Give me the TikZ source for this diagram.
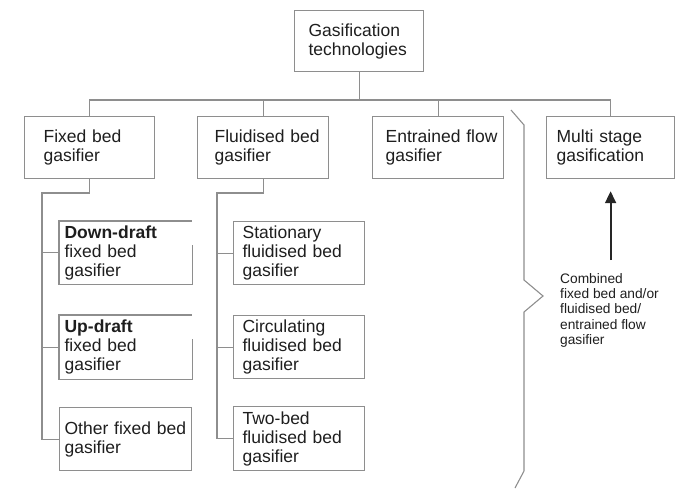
\documentclass[tikz,border=0pt]{standalone}
\usepackage{fontspec}
\setmainfont{Liberation Sans}
\usetikzlibrary{arrows.meta}

\definecolor{linegray}{HTML}{8E8E8E}
\definecolor{inkgray}{HTML}{1E1E1E}

\tikzset{
  % box={width}{height}{left indent of the text}
  box/.style n args={3}{draw=linegray, line width=1.2pt, anchor=north west,
    align=left, inner ysep=0pt, inner xsep=1pt,
    text width={#1pt-2pt}, minimum height=#2pt,
    execute at begin node={\leftskip=#3pt\relax},
    font=\fontsize{17.5}{19}\selectfont, text=inkgray},
  openbox/.style n args={3}{box={#1}{#2}{#3}, draw=none},
  edgeline/.style={draw=linegray, line width=1.2pt},
  link/.style={draw=linegray, line width=1.1pt},
  bracket/.style={draw=linegray, line width=1.1pt, line join=miter},
  uparrow/.style={draw=black!85, line width=1.8pt,
    -{Triangle[length=12pt,width=11pt]}, shorten <=13pt, shorten >=12pt},
  note/.style={anchor=north west, inner sep=0pt, align=left,
    font=\fontsize{13.75}{15.3}\selectfont, text=inkgray}
}

\begin{document}
\begin{tikzpicture}[x=1pt,y=-1pt]
\useasboundingbox (0,0) rectangle (675,488);

% root and first level
\node[box={129}{61}{13}] (root)  at (294,10)  {Gasification\\technologies};
\node[box={130}{62}{18}] (fixed) at (24,116)  {Fixed bed\\gasifier};
\node[box={131}{62}{16}] (fluid) at (197,116) {Fluidised bed\\gasifier};
\node[box={131}{62}{12}] (entr)  at (372,116) {Entrained flow\\gasifier};
\node[box={128}{62}{9}]  (multi) at (546,116) {Multi stage\\gasification};

% fixed bed variants
\node[openbox={132}{62}{4}] (down)  at (59,221) {\textbf{Down-draft}\\fixed bed\\gasifier};
\node[openbox={132}{63}{4}] (up)    at (59,315) {\textbf{Up-draft}\\fixed bed\\gasifier};
\node[box={132}{63}{4}]     (other) at (59,407) {Other fixed bed\\gasifier};

% fluidised bed variants
\node[box={131}{63}{8}] (stat) at (233,221) {Stationary\\fluidised bed\\gasifier};
\node[box={131}{63}{8}] (circ) at (233,315) {Circulating\\fluidised bed\\gasifier};
\node[box={131}{64}{8}] (two)  at (233,406) {Two-bed\\fluidised bed\\gasifier};

% borders of the two boxes whose top right corner stays open
\foreach \b in {down,up}
  \draw[edgeline] ([yshift=-24pt]\b.north east) -- (\b.south east)
    -- (\b.south west) -- (\b.north west) -- (\b.north east);

% tree from the root
\coordinate (hub) at (root.south |- 0,100);
\draw[link] (root.south) -- (hub);
\draw[link] (fixed.north) |- (hub) -| (multi.north);
\draw[link] (fluid.north) |- (hub);
\draw[link] (entr.north) |- (hub);

% fixed bed spine
\coordinate (fspine) at (42,193);
\draw[link] (fixed.south) |- (fspine) -- (fspine |- other.west) -- (other.west);
\draw[link] (fspine |- down.west) -- (down.west);
\draw[link] (fspine |- up.west) -- (up.west);

% fluidised bed spine
\coordinate (lspine) at (217,193);
\draw[link] (fluid.south) |- (lspine) -- (lspine |- two.west) -- (two.west);
\draw[link] (lspine |- stat.west) -- (stat.west);
\draw[link] (lspine |- circ.west) -- (circ.west);

% bracket gathering the single-type gasifiers
\draw[bracket] (511,110) -- (524,125) -- (524,280) -- (543,296)
  -- (524,312) -- (524,471) -- (515,488);

% combined concept feeding the multi stage box
\node[note] (comb) at (560,273)
  {Combined\\fixed bed and/or\\fluidised bed/\\entrained flow\\gasifier};
\draw[uparrow] (comb.north -| multi.south) -- (multi.south);

\end{tikzpicture}
\end{document}
